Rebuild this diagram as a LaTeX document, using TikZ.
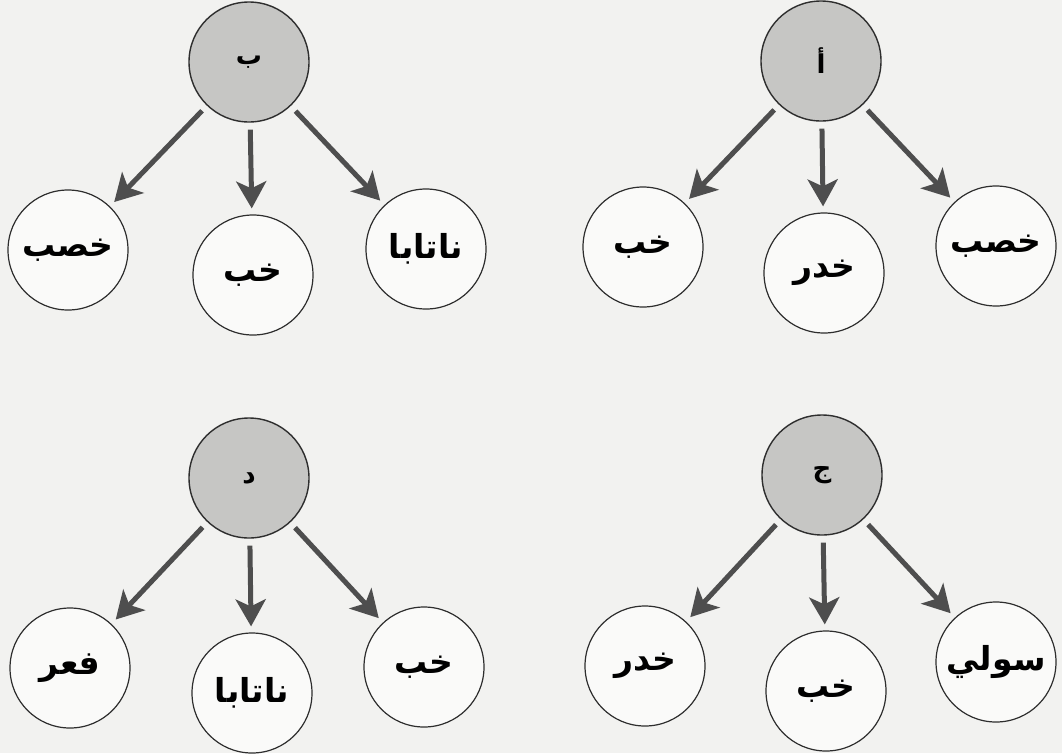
\documentclass[tikz,border=0pt]{standalone}
\usepackage{fontspec}
\newfontfamily\arabicfont[Script=Arabic]{DejaVu Sans}
\TeXXeTstate=1
\usetikzlibrary{arrows.meta}
\definecolor{paper}{HTML}{F2F2F0}
\definecolor{rootfill}{HTML}{C6C6C4}
\definecolor{arrowcol}{HTML}{4E4E4E}
\definecolor{edge}{HTML}{2E2E2E}
\newcommand{\ar}[1]{\raisebox{-5pt}{\arabicfont\bfseries\beginR #1\endR}}
\tikzset{
  rootnode/.style={circle, draw=edge, line width=1.4pt, fill=rootfill, minimum size=120pt, inner sep=0pt, font=\fontsize{26}{30}\selectfont},
  leafnode/.style={circle, draw=edge, line width=1.2pt, fill=white!60!paper, minimum size=120pt, inner sep=0pt, font=\fontsize{33}{38}\selectfont},
  arr/.style={draw=arrowcol, line width=5pt, -{Stealth[length=27pt,width=30pt,inset=7pt]}, shorten <=7pt, shorten >=6pt}
}
\begin{document}
\begin{tikzpicture}[x=1pt,y=-1pt]
\fill[paper] (0,0) rectangle (1062,753);
\useasboundingbox (0,0) rectangle (1062,753);
% top-left tree
\node[rootnode] (b) at (249,62) {\ar{ب}};
\node[leafnode] (b1) at (68,250) {\ar{خصب}};
\node[leafnode] (b2) at (253,275) {\ar{خب}};
\node[leafnode] (b3) at (426,249) {\ar{ناتابا}};
% top-right tree
\node[rootnode] (a) at (821,61) {\ar{أ}};
\node[leafnode] (a1) at (643,247) {\ar{خب}};
\node[leafnode] (a2) at (824,273) {\ar{خدر}};
\node[leafnode] (a3) at (996,246) {\ar{خصب}};
% bottom-left tree
\node[rootnode] (d) at (249,478) {\ar{د}};
\node[leafnode] (d1) at (70,668) {\ar{فعر}};
\node[leafnode] (d2) at (252,693) {\ar{ناتابا}};
\node[leafnode] (d3) at (424,667) {\ar{خب}};
% bottom-right tree
\node[rootnode] (j) at (822,475) {\ar{ج}};
\node[leafnode] (j1) at (645,666) {\ar{خدر}};
\node[leafnode] (j2) at (826,691) {\ar{خب}};
\node[leafnode] (j3) at (996,662) {\ar{سولي}};
\foreach \r/\c in {b/b1,b/b2,b/b3,a/a1,a/a2,a/a3,d/d1,d/d2,d/d3,j/j1,j/j2,j/j3}
  \draw[arr] (\r) -- (\c);
\end{tikzpicture}
\end{document}
